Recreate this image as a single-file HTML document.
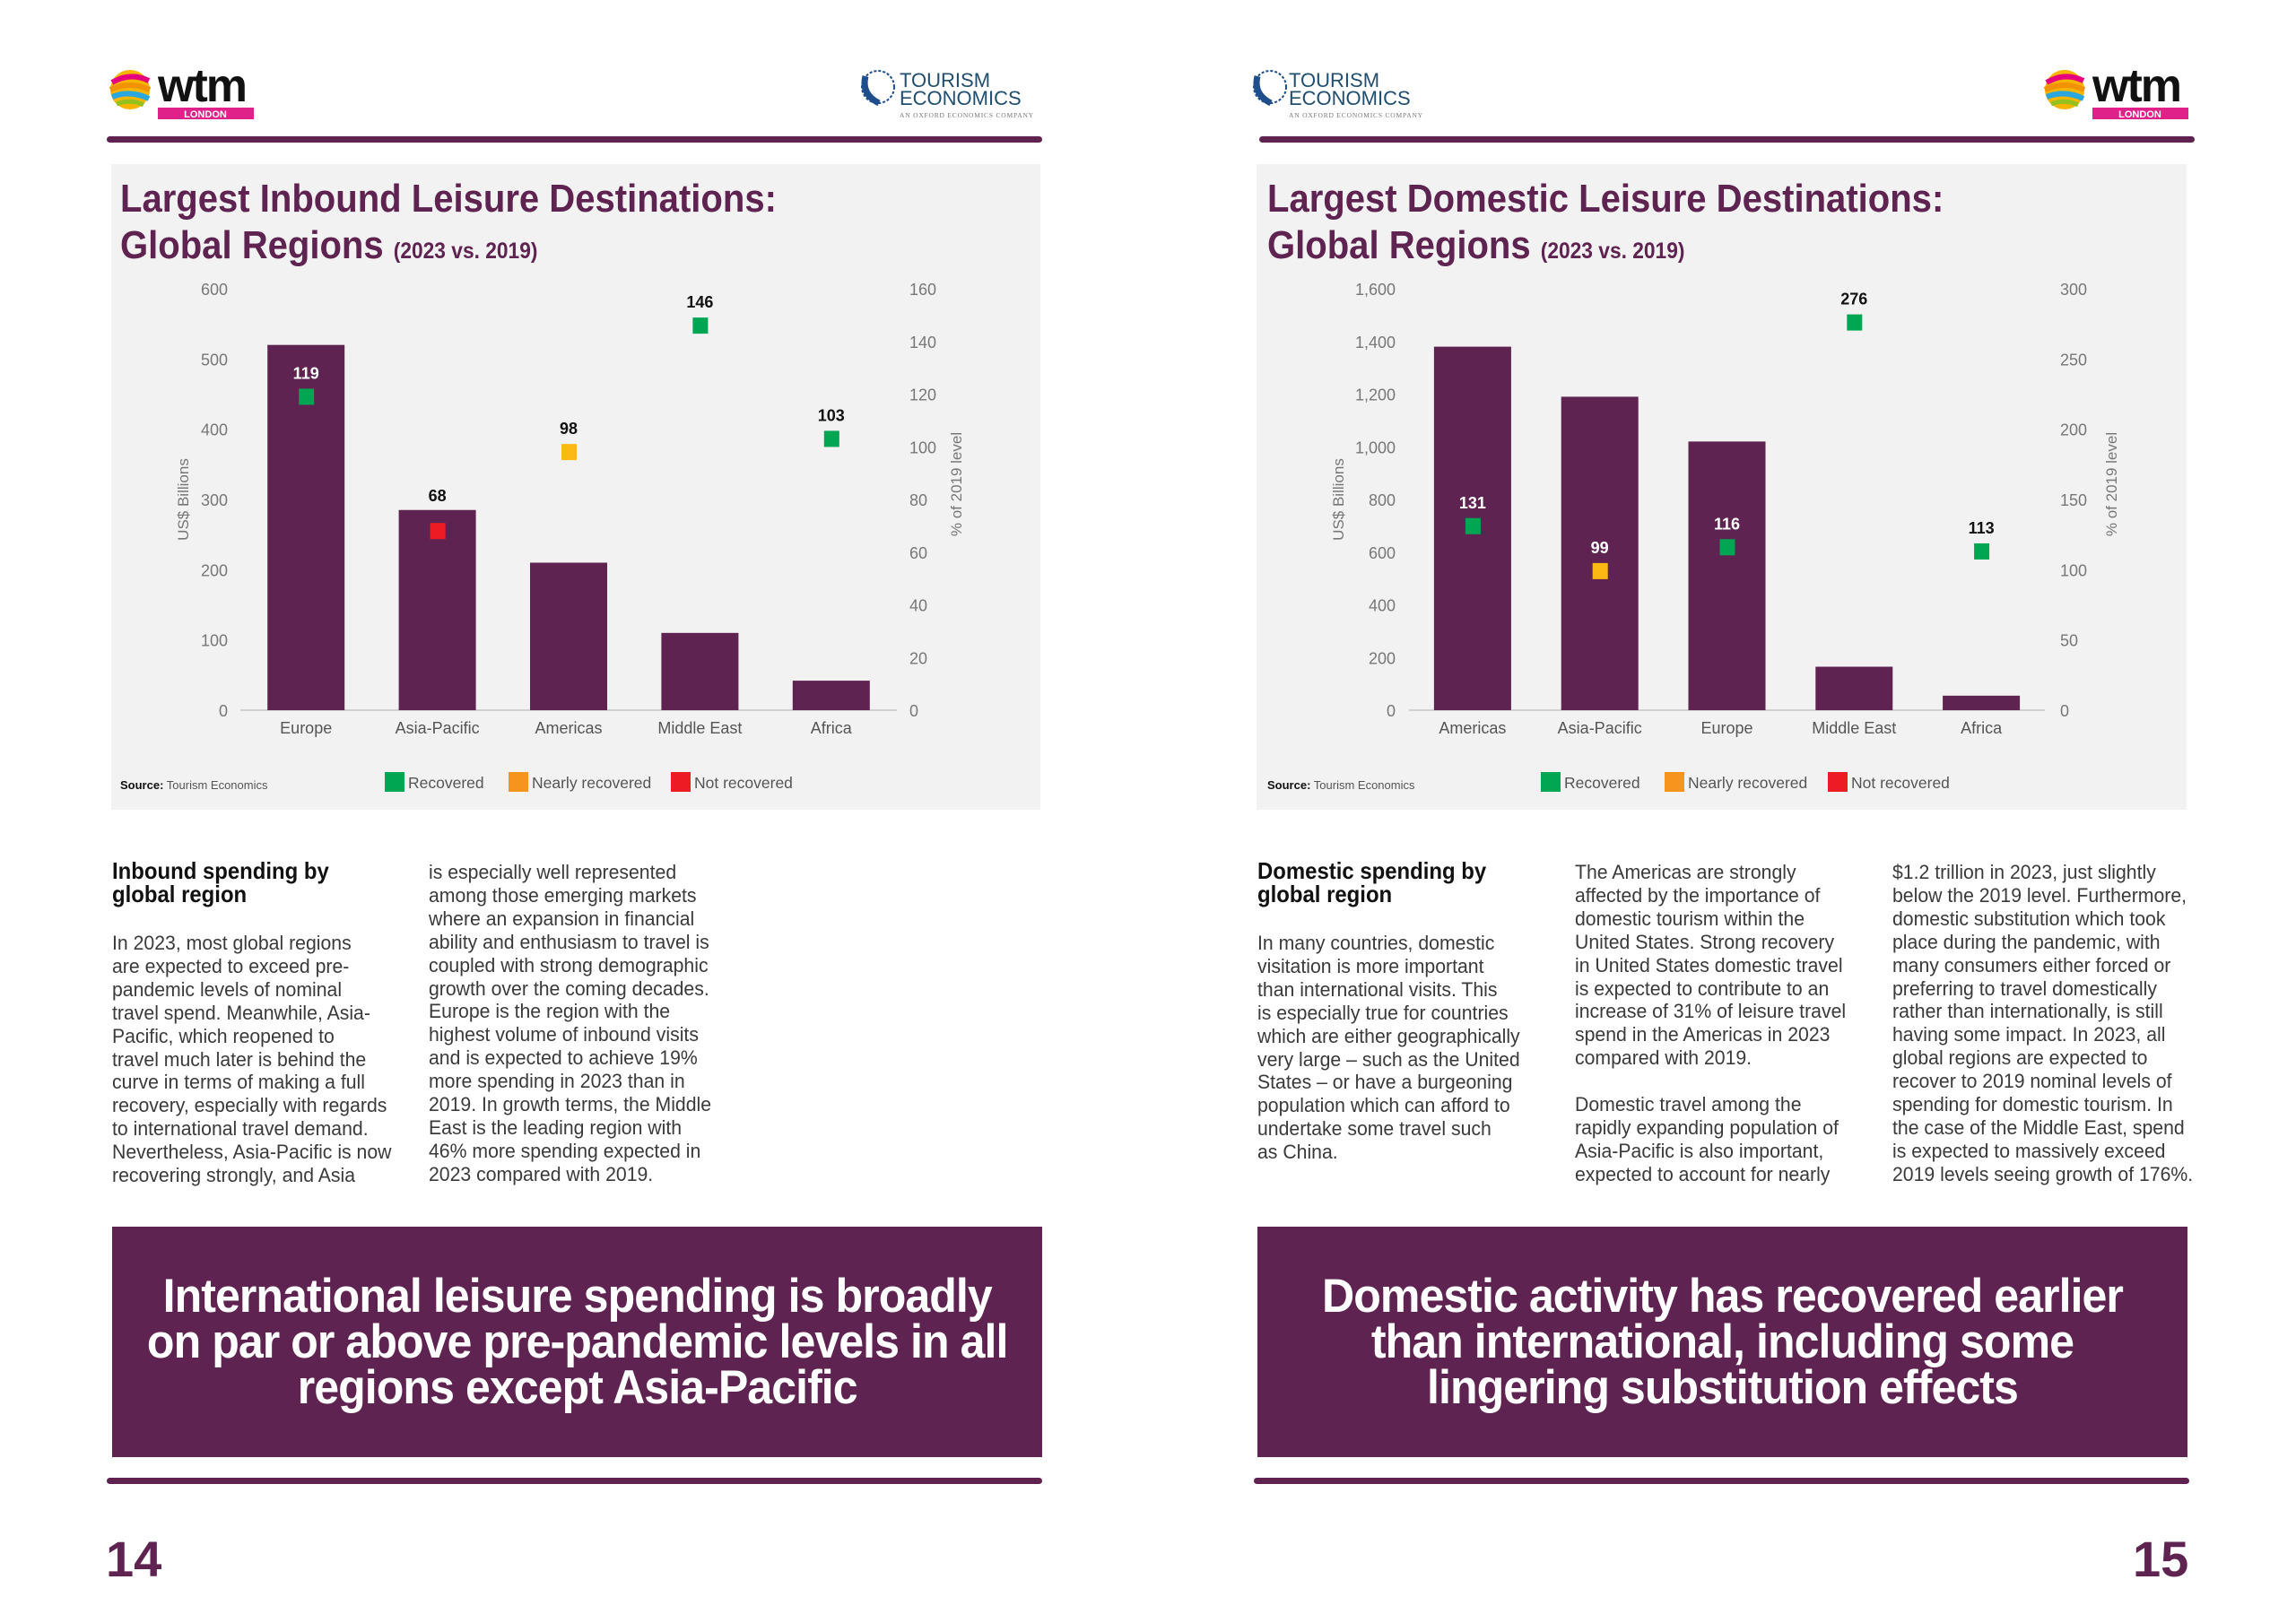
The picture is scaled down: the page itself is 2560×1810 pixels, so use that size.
<!DOCTYPE html>
<html><head><meta charset="utf-8">
<style>
*{margin:0;padding:0;box-sizing:border-box}
body{width:2560px;height:1810px;background:#fff;position:relative;overflow:hidden;font-family:"Liberation Sans",sans-serif;color:#333}
.abs{position:absolute}
.rule{position:absolute;height:7px;background:#5e2350;border-radius:4px}
.panel{position:absolute;background:#f2f2f2}
.title{position:absolute;font-family:"Liberation Sans",sans-serif;font-weight:bold;color:#5e2350;font-size:44px;line-height:52px;white-space:nowrap;transform:scaleX(0.91);transform-origin:0 0}
.title small{font-size:25px}
.body{position:absolute;font-family:"Liberation Sans",sans-serif;font-size:22px;line-height:25.9px;color:#3a3a3a;white-space:nowrap;transform:scaleX(0.965);transform-origin:0 0}
.head{position:absolute;font-family:"Liberation Sans",sans-serif;font-weight:bold;font-size:26px;line-height:26px;color:#111;white-space:nowrap;transform:scaleX(0.92);transform-origin:0 0}
.banner{position:absolute;background:#5e2350;color:#fff;font-family:"Liberation Sans",sans-serif;font-weight:bold;font-size:53px;line-height:51px;text-align:center;display:flex;align-items:center;justify-content:center}
.banner span{display:inline-block;transform:scaleX(0.945);white-space:nowrap;letter-spacing:-1px}
.pnum{position:absolute;font-family:"Liberation Sans",sans-serif;font-weight:bold;font-size:56px;color:#5e2350}
svg text{font-family:"Liberation Sans",sans-serif}
</style></head>
<body>
<svg class="abs" style="left:0;top:0" width="2560" height="160">
 <g>
  <circle cx="145" cy="100" r="22" fill="#f7b500"/>
  <path d="M125 92 Q145 80 166 90" stroke="#e6007e" stroke-width="6" fill="none"/>
  <path d="M123 100 Q145 90 167 100" stroke="#f39200" stroke-width="6" fill="none"/>
  <path d="M125 108 Q145 100 166 110" stroke="#2aa7df" stroke-width="6" fill="none"/>
  <path d="M130 116 Q146 110 160 117" stroke="#95c11f" stroke-width="5" fill="none"/>
  <text x="176" y="113" font-size="52" font-weight="bold" fill="#111" letter-spacing="-2">wtm</text>
  <rect x="176" y="120" width="107" height="13" fill="#e0218a"/>
  <text x="229" y="131" font-size="11" font-weight="bold" fill="#fff" text-anchor="middle">LONDON</text>
 </g>
 <g>
  <circle cx="979" cy="97" r="18" fill="none" stroke="#1f4e8c" stroke-width="2" stroke-dasharray="3 2"/>
  <path d="M965 85 Q960 105 980 115" stroke="#1f4e8c" stroke-width="7" fill="none"/>
  <text x="1003" y="97" font-size="22" fill="#1f4e6e">TOURISM</text>
  <text x="1003" y="117" font-size="22" fill="#1f4e6e">ECONOMICS</text>
  <text x="1003" y="131" font-size="7.5" fill="#777" style="font-family:'Liberation Serif',serif" letter-spacing="0.8">AN OXFORD ECONOMICS COMPANY</text>
 </g>
 <g>
  <circle cx="1416" cy="97" r="18" fill="none" stroke="#1f4e8c" stroke-width="2" stroke-dasharray="3 2"/>
  <path d="M1402 85 Q1397 105 1417 115" stroke="#1f4e8c" stroke-width="7" fill="none"/>
  <text x="1437" y="97" font-size="22" fill="#1f4e6e">TOURISM</text>
  <text x="1437" y="117" font-size="22" fill="#1f4e6e">ECONOMICS</text>
  <text x="1437" y="131" font-size="7.5" fill="#777" style="font-family:'Liberation Serif',serif" letter-spacing="0.8">AN OXFORD ECONOMICS COMPANY</text>
 </g>
 <g>
  <circle cx="2302" cy="100" r="22" fill="#f7b500"/>
  <path d="M2282 92 Q2302 80 2323 90" stroke="#e6007e" stroke-width="6" fill="none"/>
  <path d="M2280 100 Q2302 90 2324 100" stroke="#f39200" stroke-width="6" fill="none"/>
  <path d="M2282 108 Q2302 100 2323 110" stroke="#2aa7df" stroke-width="6" fill="none"/>
  <path d="M2287 116 Q2303 110 2317 117" stroke="#95c11f" stroke-width="5" fill="none"/>
  <text x="2333" y="113" font-size="52" font-weight="bold" fill="#111" letter-spacing="-2">wtm</text>
  <rect x="2333" y="120" width="107" height="13" fill="#e0218a"/>
  <text x="2386" y="131" font-size="11" font-weight="bold" fill="#fff" text-anchor="middle">LONDON</text>
 </g>
</svg>

<div class="rule" style="left:119px;top:152px;width:1043px"></div>
<div class="rule" style="left:1404px;top:152px;width:1043px"></div>

<div class="panel" style="left:124px;top:183px;width:1036px;height:720px"></div>
<div class="panel" style="left:1401px;top:183px;width:1037px;height:720px"></div>

<div class="title" style="left:134px;top:196px">Largest Inbound Leisure Destinations:<br>Global Regions <small>(2023 vs. 2019)</small></div>
<div class="title" style="left:1413px;top:196px">Largest Domestic Leisure Destinations:<br>Global Regions <small>(2023 vs. 2019)</small></div>

<svg id="charts" class="abs" style="left:0;top:0" width="2560" height="910"></svg>

<div class="head" style="left:125px;top:958px">Inbound spending by<br>global region</div>
<div class="body" style="left:125px;top:1039px">In 2023, most global regions<br>are expected to exceed pre-<br>pandemic levels of nominal<br>travel spend. Meanwhile, Asia-<br>Pacific, which reopened to<br>travel much later is behind the<br>curve in terms of making a full<br>recovery, especially with regards<br>to international travel demand.<br>Nevertheless, Asia-Pacific is now<br>recovering strongly, and Asia</div>
<div class="body" style="left:478px;top:960px">is especially well represented<br>among those emerging markets<br>where an expansion in financial<br>ability and enthusiasm to travel is<br>coupled with strong demographic<br>growth over the coming decades.<br>Europe is the region with the<br>highest volume of inbound visits<br>and is expected to achieve 19%<br>more spending in 2023 than in<br>2019. In growth terms, the Middle<br>East is the leading region with<br>46% more spending expected in<br>2023 compared with 2019.</div>

<div class="head" style="left:1402px;top:958px">Domestic spending by<br>global region</div>
<div class="body" style="left:1402px;top:1039px">In many countries, domestic<br>visitation is more important<br>than international visits. This<br>is especially true for countries<br>which are either geographically<br>very large – such as the United<br>States – or have a burgeoning<br>population which can afford to<br>undertake some travel such<br>as China.</div>
<div class="body" style="left:1756px;top:960px">The Americas are strongly<br>affected by the importance of<br>domestic tourism within the<br>United States. Strong recovery<br>in United States domestic travel<br>is expected to contribute to an<br>increase of 31% of leisure travel<br>spend in the Americas in 2023<br>compared with 2019.<br><br>Domestic travel among the<br>rapidly expanding population of<br>Asia-Pacific is also important,<br>expected to account for nearly</div>
<div class="body" style="left:2110px;top:960px">$1.2 trillion in 2023, just slightly<br>below the 2019 level. Furthermore,<br>domestic substitution which took<br>place during the pandemic, with<br>many consumers either forced or<br>preferring to travel domestically<br>rather than internationally, is still<br>having some impact. In 2023, all<br>global regions are expected to<br>recover to 2019 nominal levels of<br>spending for domestic tourism. In<br>the case of the Middle East, spend<br>is expected to massively exceed<br>2019 levels seeing growth of 176%.</div>

<div class="banner" style="left:125px;top:1368px;width:1037px;height:257px"><span>International leisure spending is broadly<br>on par or above pre-pandemic levels in all<br>regions except Asia-Pacific</span></div>
<div class="banner" style="left:1402px;top:1368px;width:1037px;height:257px"><span>Domestic activity has recovered earlier<br>than international, including some<br>lingering substitution effects</span></div>

<div class="rule" style="left:119px;top:1648px;width:1043px"></div>
<div class="rule" style="left:1398px;top:1648px;width:1043px"></div>

<div class="pnum" style="left:118px;top:1706px">14</div>
<div class="pnum" style="left:2378px;top:1706px">15</div>

<script>
// Inbound chart data
const inCategories = ["Europe","Asia-Pacific","Americas","Middle East","Africa"];
const inSpend = [520, 285, 210, 110, 42];
const inPct = [119, 68, 98, 146, 103];
const inStatus = ["rec","not","near","rec","rec"];
const inLeftTicks = ["0","100","200","300","400","500","600"];
const inRightTicks = ["0","20","40","60","80","100","120","140","160"];
// Domestic chart data
const domCategories = ["Americas","Asia-Pacific","Europe","Middle East","Africa"];
const domSpend = [1380, 1190, 1020, 165, 55];
const domPct = [131, 99, 116, 276, 113];
const domStatus = ["rec","near","rec","rec","rec"];
const domLeftTicks = ["0","200","400","600","800","1,000","1,200","1,400","1,600"];
const domRightTicks = ["0","50","100","150","200","250","300"];
const legendLabels = ["Recovered","Nearly recovered","Not recovered"];

const NS="http://www.w3.org/2000/svg";
const svg=document.getElementById('charts');
const COL={rec:"#00a651",near:"#fdb913",not:"#ed1c24"};
const LEGCOL=["#00a651","#f7941d","#ed1c24"];
function mk(tag,attrs,parent){const e=document.createElementNS(NS,tag);for(const k in attrs)e.setAttribute(k,attrs[k]);(parent||svg).appendChild(e);return e;}

function drawChart(cfg){
  const g=mk('g',{});
  
  
  const y0=792, yT=322;
  const leftMax=parseFloat(cfg.leftTicks[cfg.leftTicks.length-1].replace(/,/g,''));
  const rightMax=parseFloat(cfg.rightTicks[cfg.rightTicks.length-1]);
  const yL=v=>y0-(v/leftMax)*(y0-yT);
  const yR=v=>y0-(v/rightMax)*(y0-yT);
  const step=(cfg.x1-cfg.x0)/cfg.cats.length;
  const xc=i=>cfg.x0+step*(i+0.5);
  const bl=mk('line',{x1:cfg.x0,x2:cfg.x1,y1:y0,y2:y0,stroke:"#d0d0d0","stroke-width":2},g);
  
  
  cfg.leftTicks.forEach(t=>{
    const v=parseFloat(t.replace(/,/g,''));
    const e=mk('text',{x:cfg.lx,y:yL(v)+7,"font-size":18,fill:"#777","text-anchor":"end"},g);
    e.textContent=t;
    
    
  });
  cfg.rightTicks.forEach(t=>{
    const v=parseFloat(t);
    const e=mk('text',{x:cfg.rx,y:yR(v)+7,"font-size":18,fill:"#777"},g);
    e.textContent=t;
    
    
  });
  const lt=mk('text',{x:cfg.ltx,y:557,"font-size":17,fill:"#777","text-anchor":"middle",transform:`rotate(-90 ${cfg.ltx} 557)`},g);
  lt.textContent="US$ Billions";
  
  
  const rt=mk('text',{x:cfg.rtx,y:540,"font-size":17,fill:"#777","text-anchor":"middle",transform:`rotate(-90 ${cfg.rtx} 540)`},g);
  rt.textContent="% of 2019 level";
  
  
  const bw=86;
  cfg.cats.forEach((c,i)=>{
    const top=yL(cfg.spend[i]);
    const b=mk('rect',{x:xc(i)-bw/2,y:top,width:bw,height:y0-top,fill:"#5e2350"},g);
    
    
    const cl=mk('text',{x:xc(i),y:818,"font-size":18,fill:"#555","text-anchor":"middle"},g);
    cl.textContent=c;
    
    
    const py=yR(cfg.pct[i]);
    const m=mk('rect',{x:xc(i)-8,y:py-9,width:17,height:18,fill:COL[cfg.status[i]]},g);
    
    
    let ly=py-20, fill="#111";
    if(top<py-45){fill="#fff";}
    else if(top<py+10){ly=Math.min(ly,top-10);}
    const vl=mk('text',{x:xc(i),y:ly,"font-size":18,"font-weight":"bold",fill:fill,"text-anchor":"middle"},g);
    vl.textContent=cfg.pct[i];
    
    
  });
  const src=mk('text',{x:cfg.srcx,y:880,"font-size":13,fill:"#555"},g);
  src.innerHTML='<tspan font-weight="bold" fill="#111">Source:</tspan> Tourism Economics';
  
  
  legendLabels.forEach((l,i)=>{
    const lx=cfg.legx[i];
    const sq=mk('rect',{x:lx,y:861,width:22,height:22,fill:LEGCOL[i]},g);
    
    
    const tx=mk('text',{x:lx+26,y:879,"font-size":17.5,fill:"#555"},g);
    tx.textContent=l;
    
    
  });
}
drawChart({name:'inbound-chart',cats:inCategories,spend:inSpend,pct:inPct,status:inStatus,leftTicks:inLeftTicks,rightTicks:inRightTicks,
  x0:268,x1:1000,lx:254,rx:1014,ltx:210,rtx:1072,srcx:134,legx:[429,567,748]});
drawChart({name:'domestic-chart',cats:domCategories,spend:domSpend,pct:domPct,status:domStatus,leftTicks:domLeftTicks,rightTicks:domRightTicks,
  x0:1571,x1:2280,lx:1556,rx:2297,ltx:1498,rtx:2360,srcx:1413,legx:[1718,1856,2038]});
</script>
</body></html>
